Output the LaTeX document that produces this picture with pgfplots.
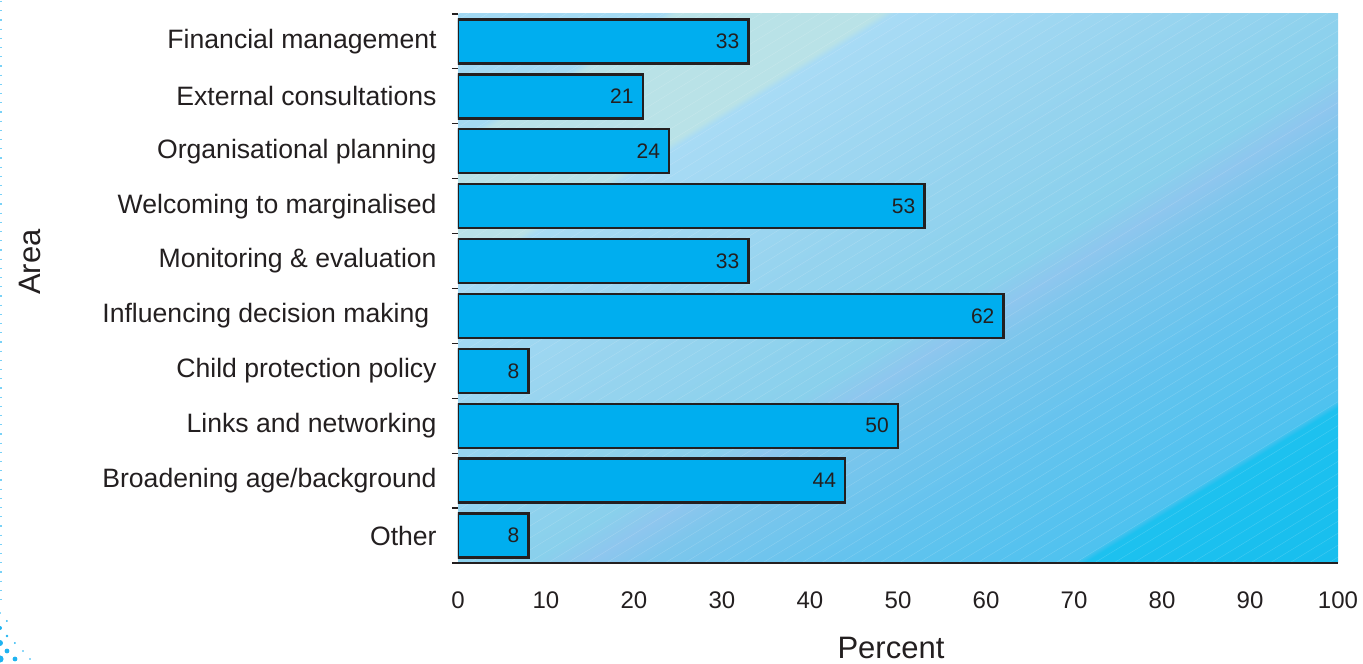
\documentclass[border=0pt]{standalone}
\usepackage{fontspec}
\setmainfont{Liberation Sans}
\usepackage{pgfplots}
\pgfplotsset{compat=1.18}
\definecolor{txt}{HTML}{231F20}
\definecolor{barc}{HTML}{00AEEF}
\definecolor{dotc}{HTML}{1FB3F0}
\definecolor{s0}{HTML}{A1D8F2}
\definecolor{s1}{HTML}{A4D9F2}
\definecolor{s2}{HTML}{B9E2E7}
\definecolor{s3}{HTML}{A8DBF5}
\definecolor{s4}{HTML}{98D4EF}
\definecolor{s5}{HTML}{89D0EC}
\definecolor{s6}{HTML}{8EC6EE}
\definecolor{s7}{HTML}{7DC6EC}
\definecolor{s8}{HTML}{64C3EE}
\definecolor{s9}{HTML}{4EC2EF}
\definecolor{s10}{HTML}{1DC1EF}
\definecolor{s11}{HTML}{18BEEE}
\pgfdeclarehorizontalshading{bgshade}{100bp}{color(0bp)=(s0); color(25bp)=(s0); color(30.75bp)=(s1); color(31.1bp)=(s2); color(36.9bp)=(s2); color(37.25bp)=(s3); color(45bp)=(s4); color(52.25bp)=(s5); color(53.85bp)=(s6); color(55.5bp)=(s7); color(61bp)=(s8); color(67.5bp)=(s9); color(67.85bp)=(s10); color(75bp)=(s11); color(100bp)=(s11)}
\begin{document}
\begin{tikzpicture}
% background of the plot area (axis box is 440pt x 274.5pt at the origin)
\begin{scope}
\clip (0,0) rectangle (440pt,274.5pt);
\pgflowlevel{\pgftransformshift{\pgfpoint{220pt}{137.25pt}}\pgftransformrotate{-58.5}}
\shade[shading=bgshade] (-231.97pt,-262pt) rectangle (231.97pt,262pt);
\foreach \k in {-50,...,50}
  \draw[white, opacity=0.16, line width=0.25pt] (\k*5.1pt,-262pt) -- (\k*5.1pt,262pt);
\end{scope}
\begin{axis}[
  scale only axis, width=440pt, height=274.5pt,
  xmin=0, xmax=100, ymin=0.5, ymax=10.5,
  xbar, bar width=22pt,
  xtick={0,10,...,100},
  ytick={1,...,10},
  yticklabels={Other, Broadening age/background, Links and networking, Child protection policy, {Influencing decision making\ \ }, Monitoring \& evaluation, Welcoming to marginalised, Organisational planning, External consultations, Financial management},
  minor ytick={0.5,1.5,...,10.5},
  axis x line*=bottom, axis y line*=left,
  x axis line style={-, line width=0.7pt, color=txt},
  y axis line style={draw=none},
  ytick align=outside, xtick align=outside,
  major tick length=0pt, minor tick length=3pt,
  minor y tick style={line width=0.6pt, color=txt},
  x tick style={draw=none},
  /pgf/number format/assume math mode=true,
  xticklabel style={inner sep=0pt, anchor=north, yshift=-14pt, font=\fontsize{12}{14}\selectfont, text=txt},
  yticklabel style={inner sep=0pt, anchor=east, xshift=-10.5pt, font=\fontsize{13.3}{15}\selectfont, text=txt},
  xlabel=Percent, ylabel=Area,
  xlabel style={at={(axis description cs:0.492,-0.1555)}, anchor=center, font=\fontsize{15.5}{18}\selectfont, text=txt},
  ylabel style={at={(axis description cs:-0.4864,0.548)}, anchor=center, font=\fontsize{15.5}{18}\selectfont, text=txt},
  nodes near coords,
  every node near coord/.append style={anchor=east, inner sep=0pt, xshift=-4pt, font=\fontsize{10.5}{12}\selectfont, text=txt},
]
\addplot[fill=barc, draw=txt, line width=1.2pt] coordinates {
(8,1) (44,2) (50,3) (8,4) (62,5) (33,6) (53,7) (24,8) (21,9) (33,10)};
\end{axis}
\draw[dotc!60, line width=0.6pt, dash pattern=on 0.6pt off 4pt] (-228.5pt,281pt) -- (-228.5pt,-20pt);
\fill[dotc] (-229pt,-32.5pt) circle (1pt) (-225.5pt,-29pt) circle (0.5pt) (-225.5pt,-36.5pt) circle (0.7pt)
 (-229pt,-40pt) circle (1.5pt) (-221.5pt,-40pt) circle (0.5pt) (-225.5pt,-44pt) circle (1.2pt)
 (-217.5pt,-44pt) circle (0.4pt) (-229pt,-48pt) circle (1.8pt) (-221.5pt,-48pt) circle (1.2pt)
 (-214pt,-48pt) circle (0.4pt) (-229pt,-25pt) circle (0.5pt);
\pgfresetboundingbox
\path[use as bounding box] (-229pt,-50pt) rectangle (452.5pt,281.5pt);
\end{tikzpicture}
\end{document}
